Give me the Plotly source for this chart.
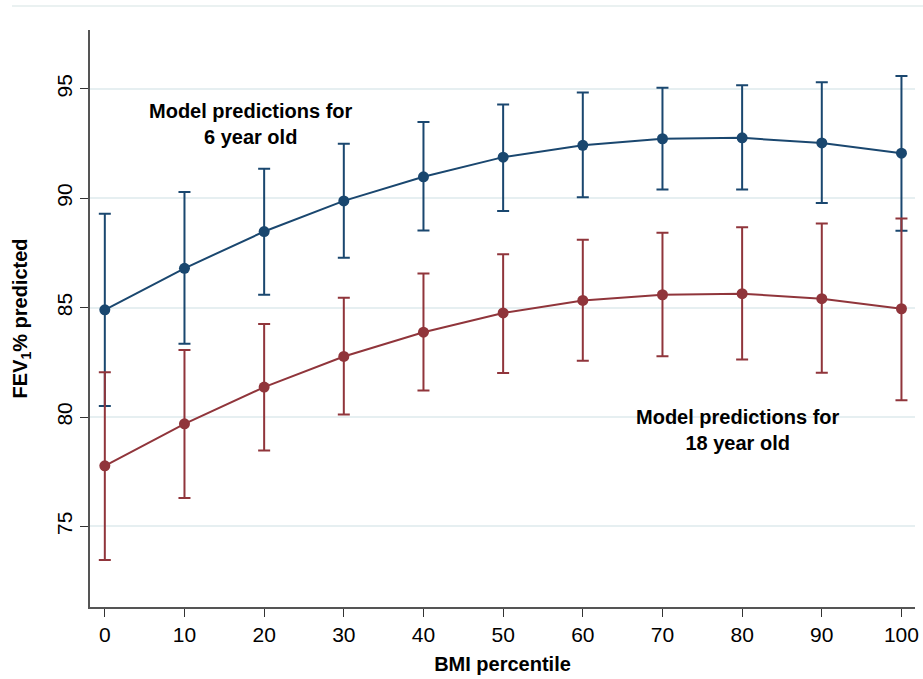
import plotly.graph_objects as go

bmi_percentile = [0, 10, 20, 30, 40, 50, 60, 70, 80, 90, 100]

age6_mean = [84.90, 86.80, 88.48, 89.88, 90.98, 91.88, 92.42, 92.72, 92.76, 92.53, 92.06]
age6_lo = [80.51, 83.35, 85.59, 87.28, 88.53, 89.42, 90.05, 90.40, 90.40, 89.78, 88.52]
age6_hi = [89.29, 90.29, 91.35, 92.49, 93.49, 94.28, 94.83, 95.05, 95.17, 95.30, 95.59]

age18_mean = [77.77, 79.69, 81.37, 82.77, 83.88, 84.76, 85.33, 85.59, 85.64, 85.41, 84.95]
age18_lo = [73.47, 76.30, 78.47, 80.12, 81.21, 82.01, 82.57, 82.78, 82.63, 82.02, 80.77]
age18_hi = [82.05, 83.07, 84.25, 85.45, 86.56, 87.44, 88.10, 88.42, 88.67, 88.85, 89.08]

x_ticks = [0, 10, 20, 30, 40, 50, 60, 70, 80, 90, 100]
y_ticks = [75, 80, 85, 90, 95]

BLUE = "#1a476f"
RED = "#90353b"
SANS = "Liberation Sans, Arial, sans-serif"


def series(mean, lo, hi, color):
    return go.Scatter(
        x=bmi_percentile,
        y=mean,
        mode="lines+markers",
        line=dict(color=color, width=2),
        marker=dict(color=color, size=11),
        error_y=dict(
            type="data",
            symmetric=False,
            array=[h - m for h, m in zip(hi, mean)],
            arrayminus=[m - l for m, l in zip(mean, lo)],
            color=color,
            thickness=2,
            width=6,
        ),
        showlegend=False,
        hoverinfo="skip",
    )


fig = go.Figure()
fig.add_trace(series(age6_mean, age6_lo, age6_hi, BLUE))
fig.add_trace(series(age18_mean, age18_lo, age18_hi, RED))

fig.update_layout(
    width=923,
    height=679,
    margin=dict(l=90, r=8, t=30, b=72),
    paper_bgcolor="white",
    plot_bgcolor="white",
    font=dict(family=SANS, color="black", size=21),
    xaxis=dict(
        range=[-1.86, 101.7],
        tickmode="array",
        tickvals=x_ticks,
        ticks="outside",
        ticklen=8,
        tickwidth=1.3,
        tickcolor="#333333",
        showline=True,
        linecolor="#555555",
        linewidth=1.5,
        showgrid=False,
        zeroline=False,
        automargin=False,
        tickfont=dict(family=SANS, size=21),
        title=dict(text="<b>BMI percentile</b>", font=dict(family=SANS, size=20), standoff=12),
    ),
    yaxis=dict(
        range=[71.32, 97.69],
        tickmode="array",
        tickvals=y_ticks,
        tickangle=-90,
        ticks="outside",
        ticklen=8,
        tickwidth=1.3,
        tickcolor="#333333",
        showline=True,
        linecolor="#555555",
        linewidth=1.5,
        showgrid=True,
        gridcolor="#e6eff1",
        gridwidth=1.5,
        zeroline=False,
        automargin=False,
        tickfont=dict(family=SANS, size=21),
        title=dict(text="<b>FEV<sub>1</sub>% predicted</b>", font=dict(family=SANS, size=20), standoff=20),
    ),
    annotations=[
        dict(
            x=18.4, y=93.4, xref="x", yref="y",
            text="<b>Model predictions for<br>6 year old</b>",
            showarrow=False,
            font=dict(family=SANS, size=20, color="black"),
            align="center",
        ),
        dict(
            x=79.5, y=79.39, xref="x", yref="y",
            text="<b>Model predictions for<br>18 year old</b>",
            showarrow=False,
            font=dict(family=SANS, size=20, color="black"),
            align="center",
        ),
    ],
    shapes=[
        dict(
            type="line", xref="paper", yref="paper",
            x0=-0.0945, x1=1.01, y0=1.0416, y1=1.0416,
            line=dict(color="#e3eced", width=1.5),
        )
    ],
)

fig.write_html(
    "out.html",
    config={"displayModeBar": False},
    post_script="document.body.style.margin='0';document.body.style.overflow='hidden';",
)
